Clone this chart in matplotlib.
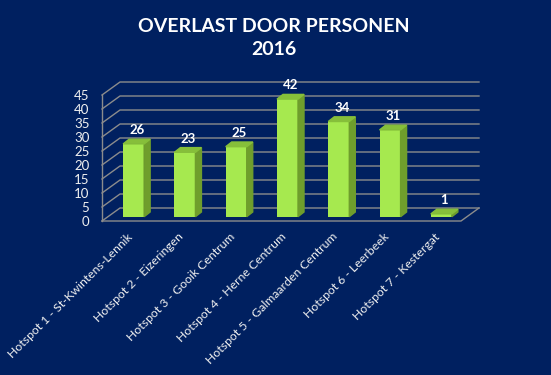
import numpy as np
import matplotlib.pyplot as plt
from matplotlib.patches import Polygon

# data
hotspots = ['Hotspot 1 - St-Kwintens-Lennik', 'Hotspot 2 - Eizeringen', 'Hotspot 3 - Gooik Centrum',
            'Hotspot 4 - Herne Centrum', 'Hotspot 5 - Galmaarden Centrum', 'Hotspot 6 - Leerbeek',
            'Hotspot 7 - Kestergat']
counts = [26, 23, 25, 42, 34, 31, 1]
yticks = [0, 5, 10, 15, 20, 25, 30, 35, 40, 45]

bg = '#002060'
grid = '#8c8c8c'
front = '#a6e94f'
side = '#6f9e2c'
top = '#86bf3a'

plt.rcParams['font.family'] = ['Lato', 'DejaVu Sans']

W, H = 551, 375
fig = plt.figure(figsize=(W / 100, H / 100), dpi=100, facecolor=bg)
# front plane of the 3D box
ax = fig.add_axes([102 / W, (H - 221) / H, 359 / W, 126 / H])
ax.set_facecolor('none')
n = len(counts)
ax.set_xlim(0, n)
ax.set_ylim(0, 45)
for s in ax.spines.values():
    s.set_visible(False)

px = n / 359.0   # data units per pixel (x)
py = 45 / 126.0  # data units per pixel (y)
bdx, bdy = 18 * px, 13 * py  # back wall offset

# walls / grid
for v in yticks:
    ax.plot([0, bdx, n + bdx], [v, v + bdy, v + bdy], color=grid, lw=1, clip_on=False, zorder=1)
ax.plot([0, 0], [0, 45], color=grid, lw=1, clip_on=False, zorder=1)
ax.plot([0, n, n + bdx], [0, 0, bdy], color=grid, lw=1, clip_on=False, zorder=1)

ax.set_yticks(yticks)
ax.set_yticklabels([str(v) for v in yticks], color='#f0f0f0', fontsize=9.5)
ax.tick_params(axis='y', length=0, pad=9)
ax.set_xticks([])

# bars
bw = 0.41
ox, oy = 6 * px, 4.3 * py      # front face offset
dx, dy = 6 * px, 4.7 * py      # bar depth
x = np.arange(n) + 0.5 + ox
ax.bar(x, counts, width=bw, bottom=oy, color=front, zorder=3, clip_on=False)
for xi, v in zip(x, counts):
    l, r = xi - bw / 2, xi + bw / 2
    t = v + oy
    ax.add_patch(Polygon([(r, oy), (r + dx, oy + dy), (r + dx, t + dy), (r, t)],
                         closed=True, color=side, zorder=3, clip_on=False))
    ax.add_patch(Polygon([(l, t), (r, t), (r + dx, t + dy), (l + dx, t + dy)],
                         closed=True, color=top, zorder=3, clip_on=False))
    ax.text(xi + dx / 2, t + dy + 3 * py, str(v), color='white', fontsize=9.5,
            fontweight='bold', ha='center', va='bottom', zorder=4)

# category labels
for i, lab in enumerate(hotspots):
    ax.text(i + 0.5 - 1 * px, -10 * py, lab, color='#f0f0f0', fontsize=8.8, rotation=45,
            rotation_mode='anchor', ha='right', va='top')

fig.text(274 / W, 1 - 38 / H, 'OVERLAST DOOR PERSONEN\n2016', color='white', fontsize=14,
         fontweight='bold', ha='center', va='center', linespacing=1.4)

fig.savefig('out.png', dpi=100, facecolor=bg)
